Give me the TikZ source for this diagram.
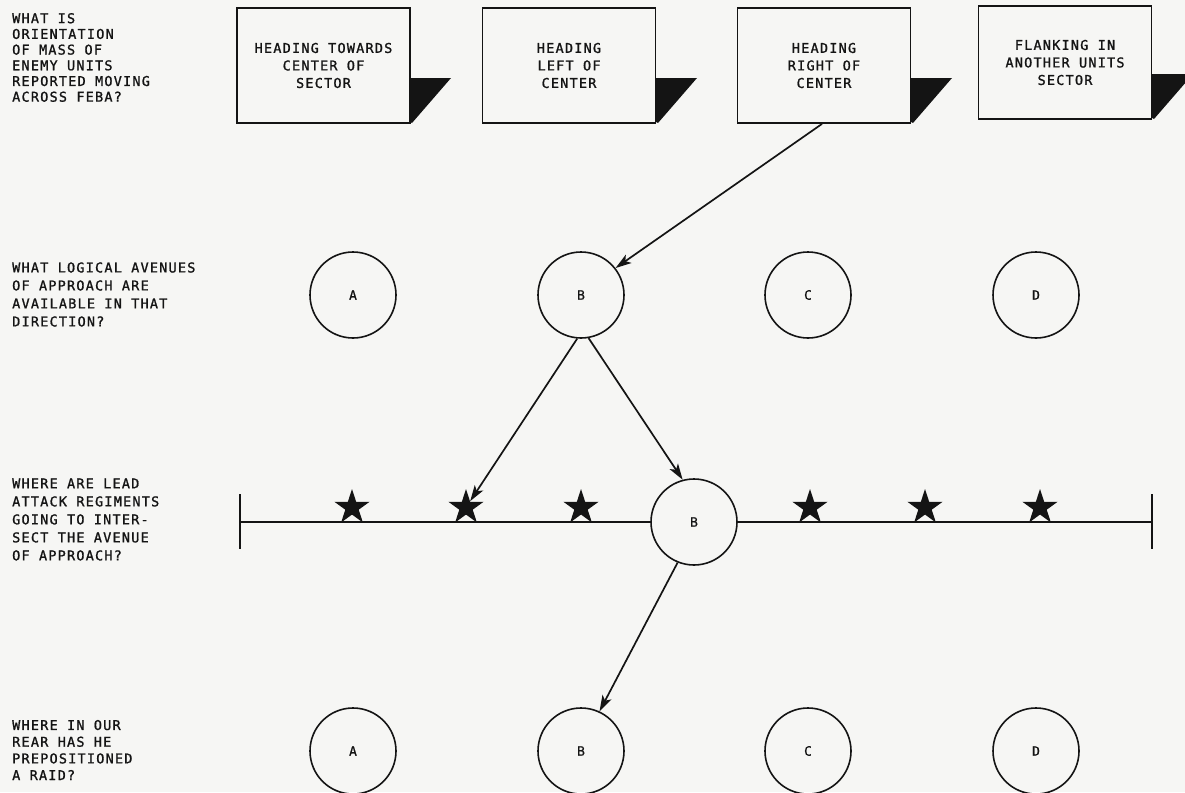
\documentclass[tikz,border=0pt]{standalone}
\usepackage{fontspec}
\usetikzlibrary{shapes.geometric,arrows.meta,calc}
\newfontfamily\leroy[LetterSpace=9,FakeBold=1.2]{DejaVu Sans Mono}
\newfontfamily\leroyc[FakeBold=0.8]{DejaVu Sans Mono}
\definecolor{paper}{RGB}{246,246,244}
\definecolor{ink}{RGB}{20,20,20}
\begin{document}
\begin{tikzpicture}[x=1pt,y=-1pt,
  lbl/.style={text=ink, align=left, anchor=west, inner sep=0pt},
  sbox/.style={draw=ink, line width=1.8pt, minimum width=173pt, minimum height=115pt, inner sep=0pt,
    align=center, fill=paper, text=ink, font=\leroy\fontsize{13.5}{17.5}\selectfont},
  shade/.style={fill=ink},
  circ/.style={circle, draw=ink, line width=1.6pt, minimum size=86pt, inner sep=0pt, text=ink,
    font=\leroyc\fontsize{13}{14}\selectfont},
  starn/.style={star, star points=5, star point ratio=2.618, fill=ink, draw=none,
    minimum size=37pt, inner sep=0pt},
  arr/.style={-{Stealth[length=16pt,width=10pt,inset=4pt]}, line width=1.7pt, draw=ink, fill=ink},
  ln/.style={line width=1.7pt, draw=ink}
]
\fill[paper] (0,0) rectangle (1185,792);
\useasboundingbox (0,0) rectangle (1185,792);
\begin{scope}
\clip (0,0) rectangle (1185,792);

% left questions
\node[lbl, font=\leroy\fontsize{13.5}{15.7}\selectfont] (q1) at (12,57.5) {WHAT IS\\ORIENTATION\\OF MASS OF\\ENEMY UNITS\\REPORTED MOVING\\ACROSS FEBA?};
\node[lbl, font=\leroy\fontsize{13.5}{18}\selectfont] (q2) at (12,294.5) {WHAT LOGICAL AVENUES\\OF APPROACH ARE\\AVAILABLE IN THAT\\DIRECTION?};
\node[lbl, font=\leroy\fontsize{13.5}{18}\selectfont] (q3) at (12,519.5) {WHERE ARE LEAD\\ATTACK REGIMENTS\\GOING TO INTER-\\SECT THE AVENUE\\OF APPROACH?};
\node[lbl, font=\leroy\fontsize{13.5}{16.7}\selectfont] (q4) at (12,750) {WHERE IN OUR\\REAR HAS HE\\PREPOSITIONED\\A RAID?};

% boxes with shadows
\coordinate (b1se) at (410,122);
\coordinate (b2se) at (656,122);
\coordinate (b3se) at (911,122);
\coordinate (b4se) at (1152,118);
\foreach \c in {b1se,b2se,b3se,b4se}{
  \fill[shade] (\c) ++(0,-44) -- ++(41,0) -- ($(\c)+(2,1)$) -- (\c) -- cycle;
}
\node[sbox] (b1) at (323.5,65.5) {HEADING TOWARDS\\CENTER OF\\SECTOR};
\node[sbox] (b2) at (569,65.5) {HEADING\\LEFT OF\\CENTER};
\node[sbox] (b3) at (824,65.5) {HEADING\\RIGHT OF\\CENTER};
\node[sbox, minimum height=113pt] (b4) at (1065,62.5) {FLANKING IN\\ANOTHER UNITS\\SECTOR};

% row 2 circles
\node[circ] (A2) at (353,295) {A};
\node[circ] (B2) at (581,295) {B};
\node[circ] (C2) at (808,295) {C};
\node[circ] (D2) at (1036,295) {D};

% row 3 line
\node[circ] (B3) at (694,522) {B};
\coordinate (L) at (240,522);
\coordinate (R) at (1152,522);
\draw[ln] (L) -- (B3.west);
\draw[ln] (B3.east) -- (R);
\draw[ln] (L) ++(0,-28) -- ++(0,55);
\draw[ln] (R) ++(0,-28) -- ++(0,55);
\node[starn] (s1) at (352,507.5) {};
\node[starn] (s2) at (466,507.5) {};
\node[starn] (s3) at (581,507.5) {};
\node[starn] (s4) at (810,507.5) {};
\node[starn] (s5) at (925,507.5) {};
\node[starn] (s6) at (1040,507.5) {};

% row 4 circles
\node[circ] (A4) at (353,751) {A};
\node[circ] (B4) at (581,751) {B};
\node[circ] (C4) at (808,751) {C};
\node[circ] (D4) at (1036,751) {D};

% arrows
\draw[arr] ($(b3.south)+(-2,0)$) -- (B2.38);
\draw[arr] (B2.265) -- (s2);
\draw[arr] (B2.-80) -- (B3.105);
\draw[arr] (B3.248) -- (B4.65);
\end{scope}
\end{tikzpicture}
\end{document}
